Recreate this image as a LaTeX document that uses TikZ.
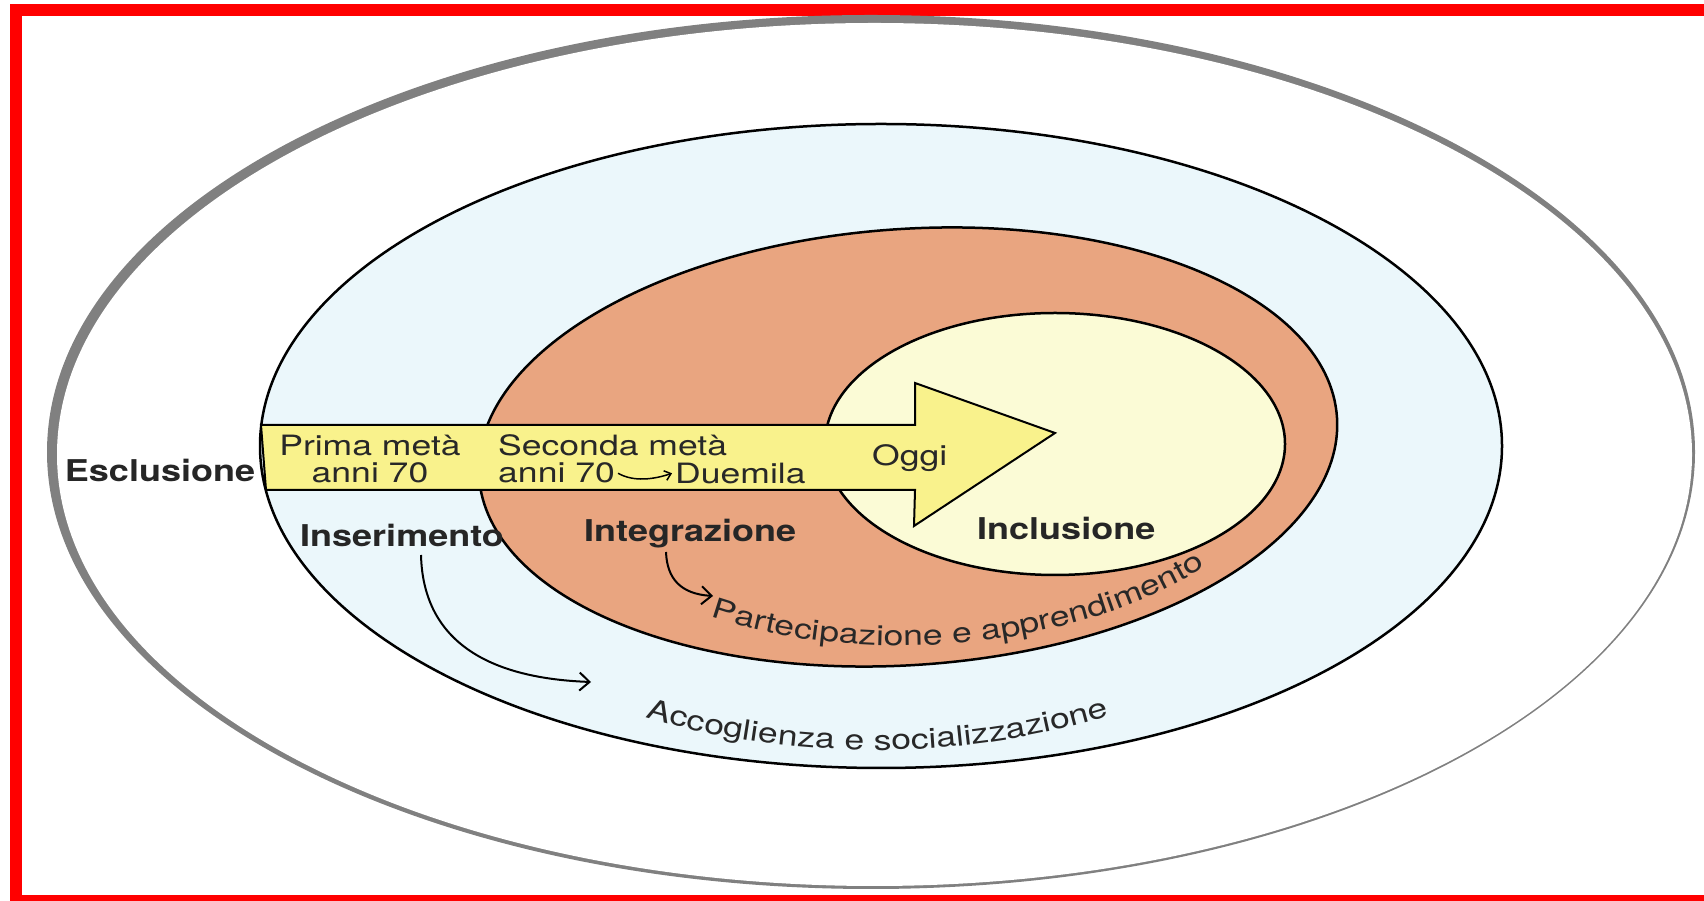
\documentclass[tikz,border=0pt]{standalone}
\usepackage{fontspec}
\setmainfont{TeX Gyre Heros}[FakeStretch=1.27, BoldFeatures={FakeStretch=1.2}]
\usetikzlibrary{arrows.meta, decorations.text, positioning}
\definecolor{rahmen}{RGB}{255,0,0}
\definecolor{azzurro}{RGB}{235,247,251}
\definecolor{salmone}{RGB}{233,165,128}
\definecolor{crema}{RGB}{251,251,214}
\definecolor{giallo}{RGB}{249,242,140}
\definecolor{grigio}{RGB}{128,128,128}
\definecolor{testo}{RGB}{40,40,40}
\newcommand{\ringfont}{\fontsize{28}{30}\selectfont\color{testo}}

\begin{document}
\begin{tikzpicture}[x=1pt, y=1pt,
    ring/.style={draw=black, line width=2.5pt},
    lab/.style={inner sep=0pt, anchor=base west, text=testo, font=\fontsize{28}{30}\selectfont},
    fase/.style={lab, text=black!85, font=\fontsize{30}{32}\selectfont\bfseries},
    conn/.style={draw=black, line width=2pt, -{Straight Barb[length=10pt, width=18pt]}},
    curved/.style={decorate, decoration={text along path, text align=left,
                   text={|\ringfont|#1}}}]
    \useasboundingbox (0,0) rectangle (1704,901);
    \clip (0,0) rectangle (1704,901);
    \draw[rahmen, line width=12pt] (1730,891) -- (16,891) -- (16,0) -- (1730,0);
    \fill[grigio] (871,449) ellipse[x radius=824, y radius=437];
    \fill[white] (874.5,446.5) ellipse[x radius=817.5, y radius=431.5];
    \draw[ring, fill=azzurro] (881,455) ellipse[x radius=621, y radius=322];
    \draw[ring, fill=salmone, rotate around={4:(908,454)}] (908,454) ellipse[x radius=430, y radius=218];
    \draw[ring, fill=crema] (1055,457) ellipse[x radius=230, y radius=131];
    \draw[line width=2pt, fill=giallo] (261,476) -- (915,476) -- (915,518) -- (1055,468)
        -- (914,375) -- (915,411) -- (266,411) -- cycle;

    \node[fase, anchor=base] (escl) at (160,419) {Esclusione};
    \node[lab, anchor=base] (prima) at (370,445) {Prima metà};
    \node[lab, anchor=base] (anni1) at (370,418) {anni 70};
    \node[lab] (seconda) at (498,445) {Seconda metà};
    \node[lab] (anni2) at (498,418) {anni 70};
    \node[lab, right=60pt of anni2] (duemila) {Duemila};
    \node[lab] (oggi) at (872,435) {Oggi};
    \node[fase] (inser) at (300,354) {Inserimento};
    \node[fase] (integr) at (584,359) {Integrazione};
    \node[fase] (inclu) at (977,361) {Inclusione};

    \coordinate (accin) at (591,219);
    \coordinate (parin) at (713,305);
    \draw[conn, line width=1.5pt, -{Straight Barb[length=6pt, width=10pt]}]
        ([xshift=3pt]anni2.east) .. controls +(16,-9) and +(-18,-6) .. ([xshift=-3pt]duemila.west);
    \draw[conn] ([shift={(121,-8)}]inser.base west) .. controls +(2,-82) and +(-109,4) .. (accin);
    \draw[conn] ([shift={(82,-10)}]integr.base west) .. controls +(1,-27) and +(-32,2) .. (parin);

    \path[curved={Partecipazione e apprendimento}, rotate around={3:(925,466)}] (925,466) ++(234:380 and 210)
        arc[start angle=234, end angle=350, x radius=380, y radius=210];
    \path[curved={Accoglienza e socializzazione}] (875,453) ++(243:505 and 302)
        arc[start angle=243, end angle=310, x radius=505, y radius=302];
\end{tikzpicture}
\end{document}
